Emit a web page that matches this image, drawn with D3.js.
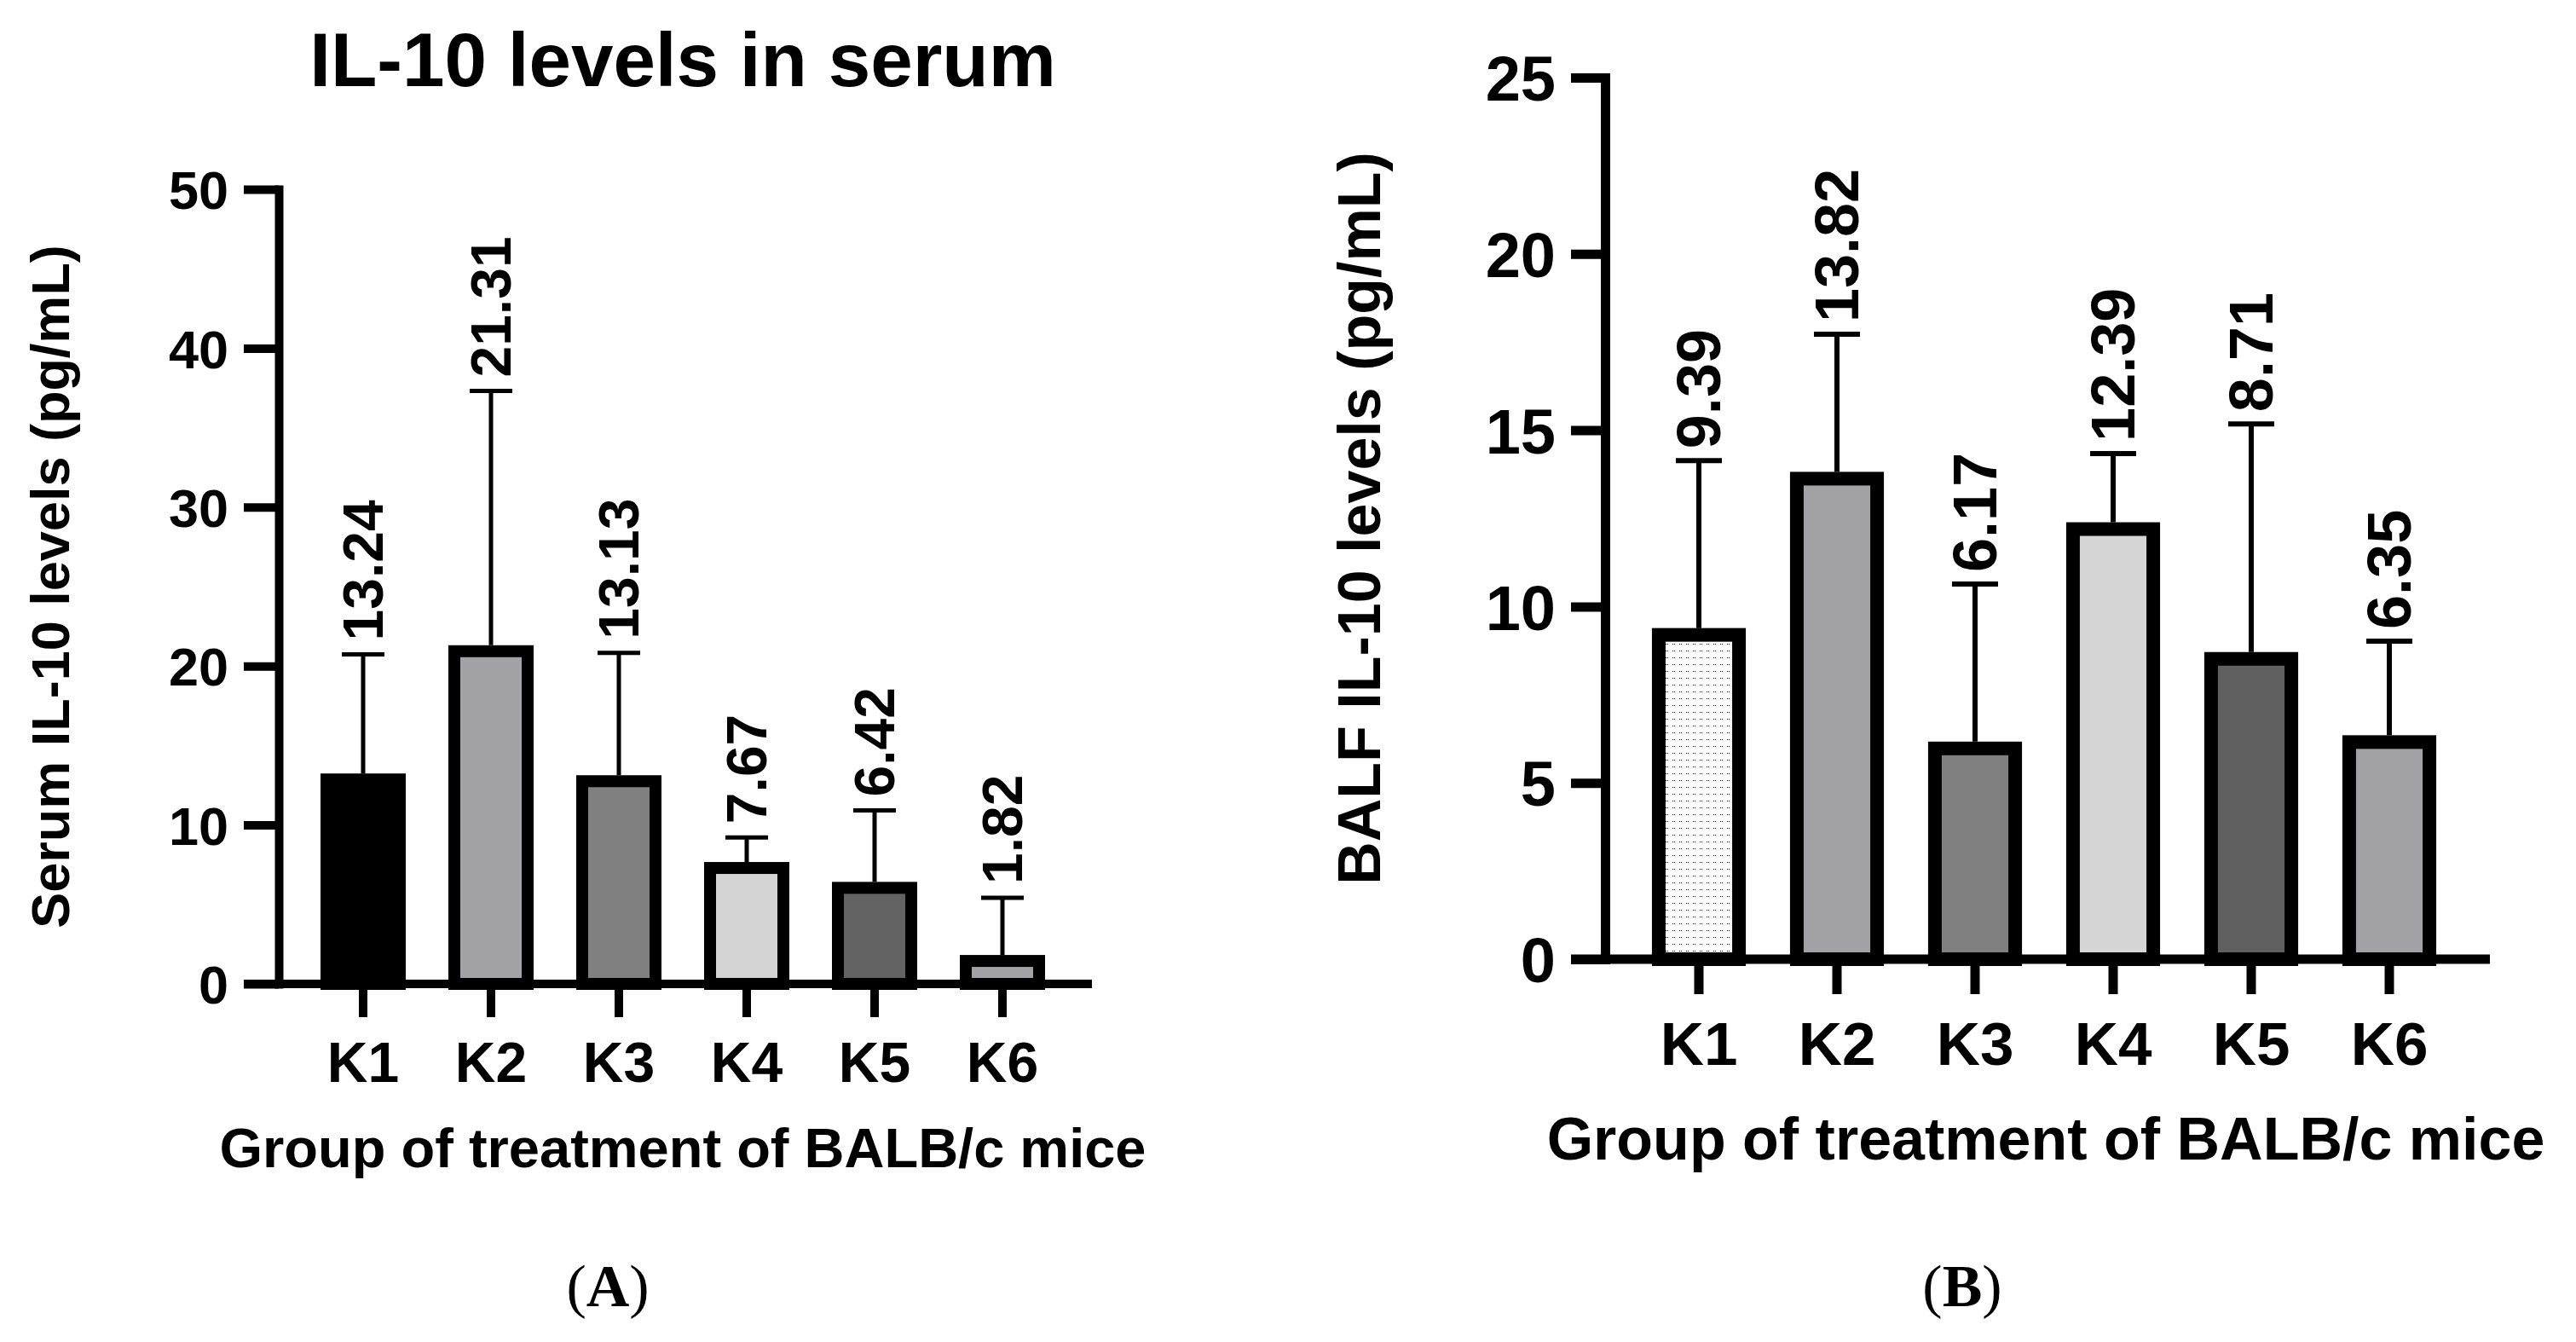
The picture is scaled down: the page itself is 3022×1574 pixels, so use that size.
<!DOCTYPE html>
<html>
<head>
<meta charset="utf-8">
<script src="https://cdn.jsdelivr.net/npm/d3@7"></script>
<style>
  body { margin: 0; background: #fff; }
  text { font-family: "Liberation Sans", Arial, sans-serif; font-weight: bold; fill: #000; }
</style>
</head>
<body>
<svg id="chart"></svg>
<script>
var width = 3022, height = 1574;

// data
var groups = ["K1", "K2", "K3", "K4", "K5", "K6"];
var serumMean = [13.24, 21.31, 13.13, 7.67, 6.42, 1.82];
var serumSD = [7.5, 16.0, 7.7, 1.55, 4.5, 3.6];
var balfMean = [9.39, 13.82, 6.17, 12.39, 8.71, 6.35];
var balfSD = [4.75, 3.9, 4.47, 1.95, 6.47, 2.67];
var serumTicks = [0, 10, 20, 30, 40, 50];
var balfTicks = [0, 5, 10, 15, 20, 25];
var serumFill = ["#000000", "#a3a2a7", "#808080", "#d4d4d4", "#636363", "#a3a2a7"];
var balfFill = ["url(#dots)", "#a3a2a7", "#808080", "#d6d6d6", "#606060", "#a3a2a7"];

var svg = d3.select("#chart")
	.attr("width", width)
	.attr("height", height);

svg.append("rect").attr("width", width).attr("height", height).attr("fill", "#fff");

// dotted fill used by K1 in panel B
var pat = svg.append("defs").append("pattern")
	.attr("id", "dots")
	.attr("patternUnits", "userSpaceOnUse")
	.attr("width", 8).attr("height", 8);
pat.append("rect").attr("width", 8).attr("height", 8).attr("fill", "#fff");
pat.append("rect").attr("x", 2).attr("y", 3).attr("width", 1).attr("height", 1).attr("fill", "#000");
pat.append("rect").attr("x", 4).attr("y", 3).attr("width", 1).attr("height", 1).attr("fill", "#000");

var drawPanel = function(p) {
	var g = svg.append("g");

	var y = d3.scaleLinear().domain([0, p.max]).range([p.bottom, p.top]);
	var x = d3.scaleBand().domain(groups).range([p.x0, p.x1]).padding(0);
	var bw = x.bandwidth() * p.barFrac;
	var cx = function(d) { return x(d) + x.bandwidth() / 2; };

	var rows = groups.map(function(k, i) {
		return {k: k, v: p.mean[i], sd: p.sd[i], fill: p.fill[i]};
	});

	// error bars (upper only)
	var eb = g.selectAll(".err").data(rows).enter().append("g").attr("class", "err");
	eb.append("line")
		.attr("x1", function(d) { return cx(d.k); })
		.attr("x2", function(d) { return cx(d.k); })
		.attr("y1", function(d) { return y(d.v); })
		.attr("y2", function(d) { return y(d.v + d.sd); })
		.attr("stroke", "#000").attr("stroke-width", p.errW);
	eb.append("line")
		.attr("x1", function(d) { return cx(d.k) - p.capW / 2; })
		.attr("x2", function(d) { return cx(d.k) + p.capW / 2; })
		.attr("y1", function(d) { return y(d.v + d.sd); })
		.attr("y2", function(d) { return y(d.v + d.sd); })
		.attr("stroke", "#000").attr("stroke-width", p.errW);

	// bars, border kept inside the value
	g.selectAll(".bar").data(rows).enter().append("rect")
		.attr("class", "bar")
		.attr("x", function(d) { return cx(d.k) - bw / 2 + p.barStroke / 2; })
		.attr("y", function(d) { return y(d.v) + p.barStroke / 2; })
		.attr("width", bw - p.barStroke)
		.attr("height", function(d) { return y(0) - y(d.v) - p.barStroke / 2; })
		.attr("fill", function(d) { return d.fill; })
		.attr("stroke", "#000")
		.attr("stroke-width", p.barStroke);

	// value labels, rotated above the caps
	g.selectAll(".val").data(rows).enter().append("text")
		.attr("class", "val")
		.attr("transform", function(d) { return "translate(" + cx(d.k) + "," + (y(d.v + d.sd) - p.labGap) + ") rotate(-90)"; })
		.attr("dominant-baseline", "central")
		.attr("font-size", p.valFont)
		.text(function(d) { return d.v.toFixed(2); });

	// y axis
	var yAxis = g.append("g")
		.attr("transform", "translate(" + p.axisX + ",0)")
		.call(d3.axisLeft(y).tickValues(p.ticks).tickSize(p.tickLen).tickSizeOuter(0).tickPadding(18));
	yAxis.attr("font-family", null);
	yAxis.select(".domain").attr("stroke-width", p.axisW).attr("stroke-linecap", "square");
	yAxis.selectAll(".tick line").attr("stroke-width", p.axisW);
	yAxis.selectAll(".tick text")
		.attr("font-size", p.tickFont)
		.attr("dy", "0.36em");

	// x axis
	var xAxis = g.append("g")
		.attr("transform", "translate(0," + p.bottom + ")")
		.call(d3.axisBottom(x).tickSize(p.xTickLen).tickSizeOuter(0).tickPadding(0));
	xAxis.attr("font-family", null);
	xAxis.select(".domain").remove();
	xAxis.append("line")
		.attr("x1", p.axisX - p.tickLen).attr("x2", p.xEnd)
		.attr("stroke", "#000").attr("stroke-width", p.axisW);
	xAxis.selectAll(".tick line").attr("stroke-width", p.axisW);
	xAxis.selectAll(".tick text")
		.attr("font-size", p.catFont)
		.attr("y", p.catBase - p.bottom)
		.attr("dy", 0);

	// axis titles
	g.append("text")
		.attr("x", p.xTitleX).attr("y", p.xTitleY)
		.attr("text-anchor", "middle")
		.attr("font-size", p.xTitleFont)
		.text("Group of treatment of BALB/c mice");

	g.append("text")
		.attr("transform", "translate(" + p.yTitleX + "," + (p.top + p.bottom) / 2 + ") rotate(-90)")
		.attr("text-anchor", "middle")
		.attr("dominant-baseline", "central")
		.attr("font-size", p.yTitleFont)
		.text(p.yTitle);

	// panel tag
	var tag = g.append("text")
		.attr("x", p.tagX).attr("y", 1532)
		.attr("text-anchor", "middle")
		.style("font-family", "'Liberation Serif', 'Times New Roman', serif")
		.style("font-weight", "normal")
		.attr("font-size", 70);
	tag.append("tspan").text("(");
	tag.append("tspan").style("font-weight", "bold").text(p.tag);
	tag.append("tspan").text(")");
};

drawPanel({
	mean: serumMean, sd: serumSD, fill: serumFill, ticks: serumTicks, max: 50,
	top: 222, bottom: 1154, axisX: 327, x0: 351, x1: 1251, xEnd: 1281,
	barFrac: 2 / 3, barStroke: 14, errW: 5, capW: 50, labGap: 16, valFont: 66,
	axisW: 10, tickLen: 41, xTickLen: 39, tickFont: 63, catFont: 66, catBase: 1269,
	xTitleX: 801, xTitleY: 1369, xTitleFont: 65,
	yTitleX: 59, yTitleFont: 63, yTitle: "Serum IL-10 levels (pg/mL)",
	tag: "A", tagX: 713
});

drawPanel({
	mean: balfMean, sd: balfSD, fill: balfFill, ticks: balfTicks, max: 25,
	top: 91, bottom: 1125, axisX: 1883, x0: 1912, x1: 2884, xEnd: 2921,
	barFrac: 0.68, barStroke: 16, errW: 6, capW: 54, labGap: 14, valFont: 72,
	axisW: 11, tickLen: 40, xTickLen: 41, tickFont: 74, catFont: 71, catBase: 1249,
	xTitleX: 2400, xTitleY: 1360, xTitleFont: 70,
	yTitleX: 1595, yTitleFont: 70, yTitle: "BALF IL-10 levels (pg/mL)",
	tag: "B", tagX: 2302
});

// panel A title
svg.append("text")
	.attr("x", 801).attr("y", 101)
	.attr("text-anchor", "middle")
	.attr("font-size", 89)
	.text("IL-10 levels in serum");
</script>
</body>
</html>
